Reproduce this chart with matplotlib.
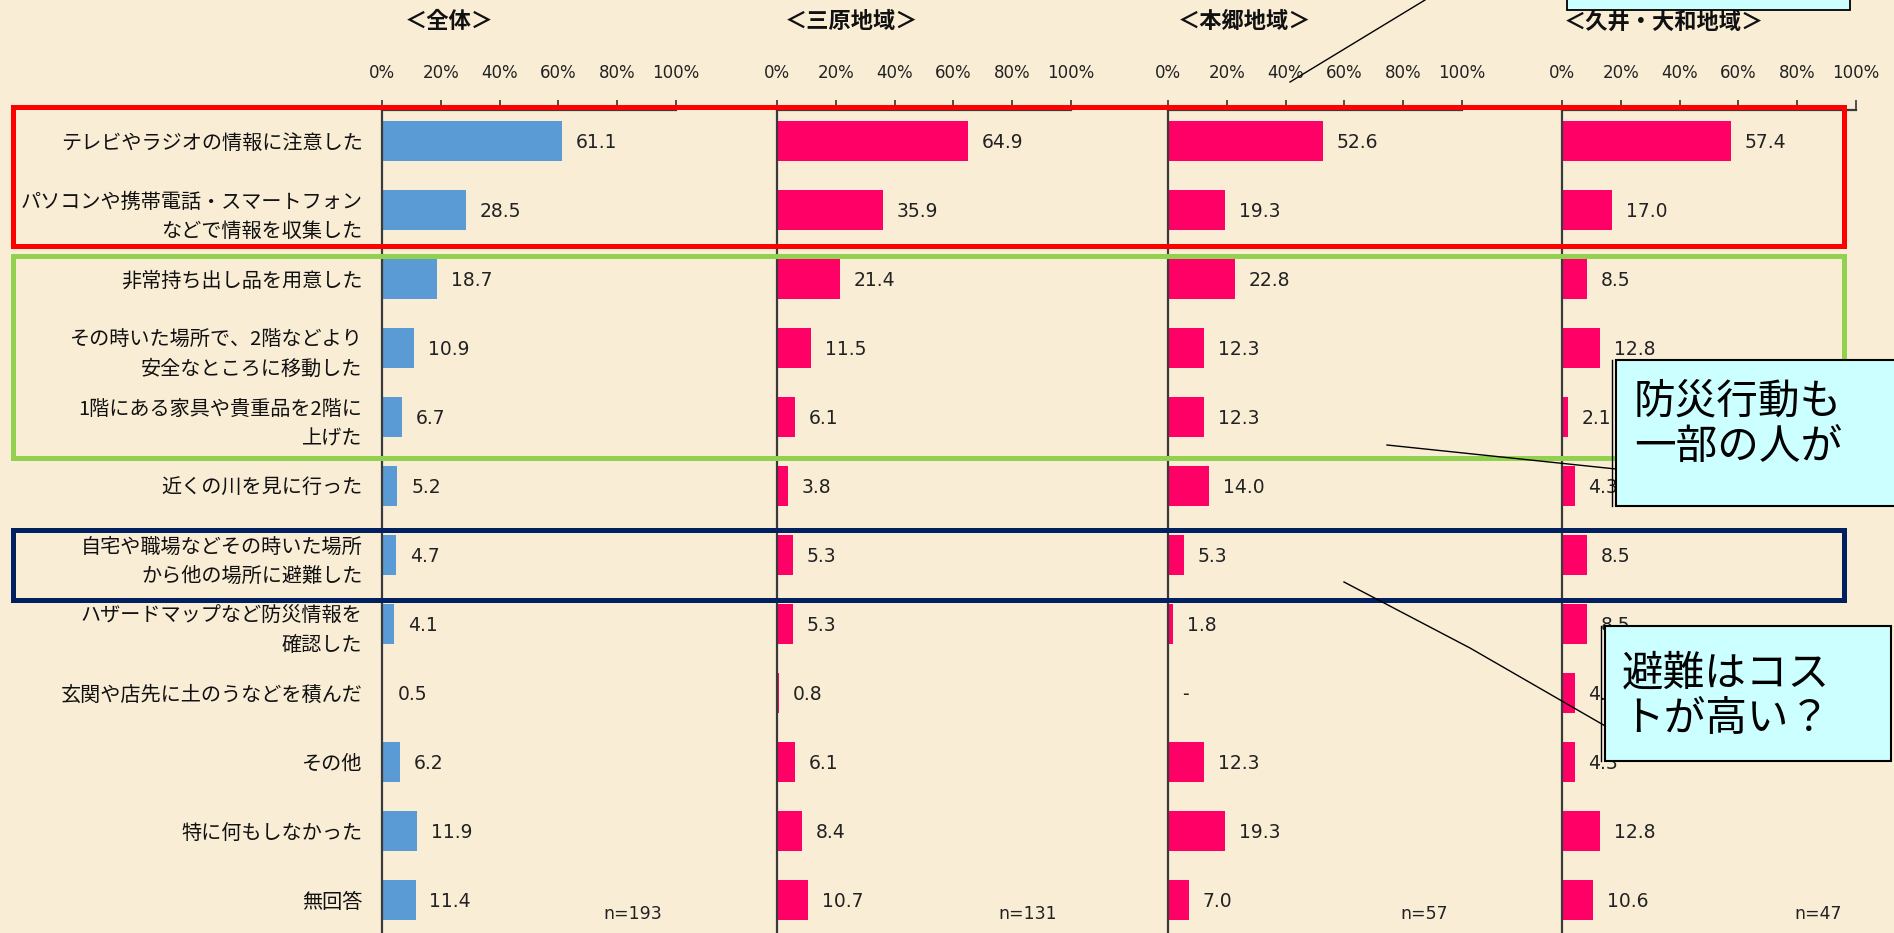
import matplotlib
matplotlib.use('Agg')
import matplotlib.pyplot as plt
from matplotlib.patches import Rectangle
from matplotlib.lines import Line2D

plt.rcParams['font.family'] = ['Noto Sans CJK JP', 'DejaVu Sans']

# ---------------- data ----------------
categories = [
    "テレビやラジオの情報に注意した",
    "パソコンや携帯電話・スマートフォン\nなどで情報を収集した",
    "非常持ち出し品を用意した",
    "その時いた場所で、2階などより\n安全なところに移動した",
    "1階にある家具や貴重品を2階に\n上げた",
    "近くの川を見に行った",
    "自宅や職場などその時いた場所\nから他の場所に避難した",
    "ハザードマップなど防災情報を\n確認した",
    "玄関や店先に土のうなどを積んだ",
    "その他",
    "特に何もしなかった",
    "無回答",
]
region_titles = ["＜全体＞", "＜三原地域＞", "＜本郷地域＞", "＜久井・大和地域＞"]
n_labels = ["n=193", "n=131", "n=57", "n=47"]

values_total = [61.1, 28.5, 18.7, 10.9, 6.7, 5.2, 4.7, 4.1, 0.5, 6.2, 11.9, 11.4]
values_mihara = [64.9, 35.9, 21.4, 11.5, 6.1, 3.8, 5.3, 5.3, 0.8, 6.1, 8.4, 10.7]
values_hongo = [52.6, 19.3, 22.8, 12.3, 12.3, 14.0, 5.3, 1.8, 0.0, 12.3, 19.3, 7.0]
values_kui = [57.4, 17.0, 8.5, 12.8, 2.1, 4.3, 8.5, 8.5, 4.3, 4.3, 12.8, 10.6]

tick_values = [0, 20, 40, 60, 80, 100]
tick_labels = ["0%", "20%", "40%", "60%", "80%", "100%"]

callout1_text = "防災行動も\n一部の人が"
callout2_text = "避難はコス\nトが高い？"

# ---------------- style / layout ----------------
W, H = 1894, 933
BG = '#F9EDD6'
BLUE = '#5B9BD5'
PINK = '#FF0066'
panel_colors = [BLUE, PINK, PINK, PINK]
series = [values_total, values_mihara, values_hongo, values_kui]
panel_left_px = [382, 777, 1168, 1562]
panel_w_px = 294
ax_top_px, ax_bot_px = 110, 933
title_offset_px = [23, 8, 10, 2]


def fx(x):
    return x / W


def fy(y):
    return 1 - y / H


fig = plt.figure(figsize=(W / 100, H / 100), dpi=100, facecolor=BG)

axes = []
for k in range(4):
    ax = fig.add_axes([fx(panel_left_px[k]), fy(ax_bot_px),
                       panel_w_px / W, (ax_bot_px - ax_top_px) / H])
    ax.set_facecolor('none')
    vals = series[k]
    ypos = list(range(len(categories)))
    ax.barh(ypos, vals, height=0.57, color=panel_colors[k], edgecolor='none', zorder=2)
    for i, v in enumerate(vals):
        lab = '-' if v == 0 else f'{v:.1f}'
        ax.annotate(lab, xy=(v, i), xytext=(10, -1), textcoords='offset points',
                    va='center', ha='left', fontsize=13.5, color='#222222',
                    family='DejaVu Sans')
    ax.set_xlim(0, 100)
    ax.set_ylim(11.48, -0.45)
    ax.xaxis.set_ticks_position('top')
    ax.set_xticks(tick_values)
    ax.set_xticklabels(tick_labels, family='DejaVu Sans', fontsize=12, color='#222222')
    ax.tick_params(axis='x', direction='out', length=7, width=1.2, color='#333333', pad=13)
    for s in ['right', 'bottom']:
        ax.spines[s].set_visible(False)
    for s in ['left', 'top']:
        ax.spines[s].set_color('#3a3a3a')
        ax.spines[s].set_linewidth(1.6)
    ax.set_yticks(ypos)
    if k == 0:
        ax.set_yticklabels(categories, fontsize=14.5, ha='right', linespacing=1.55,
                           color='#111111')
        ax.tick_params(axis='y', length=0, pad=14)
    else:
        ax.set_yticklabels([])
        ax.tick_params(axis='y', length=0)
    ax.text(0.953, fy(914 - ax_top_px + H - ax_bot_px) if False else 0, '', transform=ax.transAxes)
    fig.text(fx(panel_left_px[k] + 280), fy(914), n_labels[k], ha='right', va='center',
             fontsize=12.5, family='DejaVu Sans', color='#222222')
    fig.text(fx(panel_left_px[k] + title_offset_px[k]), fy(22), region_titles[k],
             ha='left', va='center', fontsize=16, fontweight='bold', color='#111111')
    axes.append(ax)


def rect_px(x0, y0, x1, y1, **kw):
    r = Rectangle((fx(x0), fy(y1)), fx(x1) - fx(x0), fy(y0) - fy(y1),
                  transform=fig.transFigure, **kw)
    fig.add_artist(r)
    return r


def line_px(xs, ys, **kw):
    l = Line2D([fx(x) for x in xs], [fy(y) for y in ys], transform=fig.transFigure, **kw)
    fig.add_artist(l)
    return l


# highlight frames
rect_px(13, 107, 1844, 246, fill=False, edgecolor='#FF0000', linewidth=3.6, zorder=5)
rect_px(13, 256, 1844, 458, fill=False, edgecolor='#92D050', linewidth=3.6, zorder=5)
rect_px(13, 530, 1844, 600, fill=False, edgecolor='#002060', linewidth=3.6, zorder=5)

# leader lines
line_px([1387, 1616], [445, 469], color='black', linewidth=1.0, zorder=6)
line_px([1344, 1470, 1607], [582, 648, 727], color='black', linewidth=1.0, zorder=6)
line_px([1425, 1290], [0, 82], color='black', linewidth=1.0, zorder=6)

# callout boxes
rect_px(1567, -5, 1850, 10, facecolor='#CCFFFF', edgecolor='black', linewidth=1.3, zorder=7)
rect_px(1616, 360, 1900, 506, facecolor='#CCFFFF', edgecolor='black', linewidth=1.5, zorder=7)
line_px([1612, 1612], [360, 506], color='black', linewidth=1.0, zorder=7)
rect_px(1605, 626, 1891, 761, facecolor='#CCFFFF', edgecolor='black', linewidth=1.5, zorder=7)
line_px([1601, 1601], [626, 761], color='black', linewidth=1.0, zorder=7)

fig.text(fx(1634), fy(425), callout1_text, ha='left', va='center', fontsize=30,
         linespacing=1.15, color='black', zorder=8)
fig.text(fx(1622), fy(697), callout2_text, ha='left', va='center', fontsize=30,
         linespacing=1.15, color='black', zorder=8)

fig.savefig('out.png', dpi=100, facecolor=BG)
